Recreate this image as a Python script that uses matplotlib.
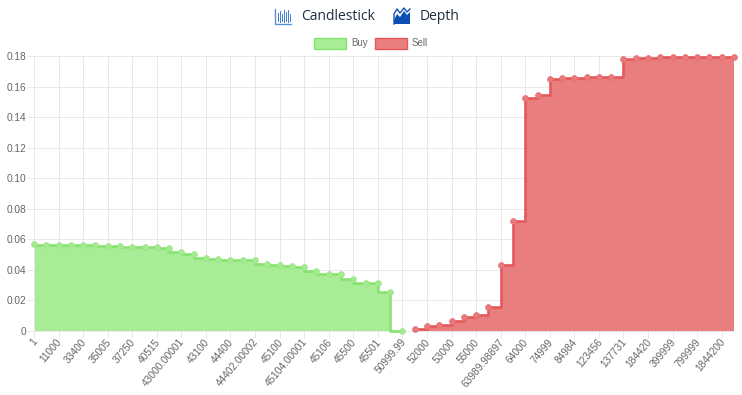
#!/usr/bin/env python3
import numpy as np
from matplotlib import pyplot as plt
from matplotlib.patches import Rectangle, Polygon
from matplotlib.transforms import ScaledTranslation

plt.rcParams['font.family'] = ['Liberation Sans', 'DejaVu Sans']

tick_labels = ["1", "11000", "33400", "35005", "37250", "40515", "43000.00001", "43100", "44400",
               "44402.00002", "45100", "45104.00001", "45106", "45500", "45501", "50999.99",
               "52000", "53000", "55000", "63989.98897", "64000", "74999", "84984", "123456",
               "137731", "184420", "399999", "799999", "1844200"]

buy_values = [.057, .0565, .0565, .0565, .056, .056, .0557, .0555, .0553, .0552, .055, .0545,
              .0515, .0505, .0475, .047, .0468, .0467, .0467, .0438, .043, .0425, .0417, .0395,
              .0375, .0375, .034, .0315, .0315, .0257, 0.0]

sell_values = [.001, .003, .0037, .0065, .009, .0104, .0154, .0435, .072, .1525, .1545, .165,
               .1655, .1655, .166, .166, .166, .178, .179, .179, .1792, .1795, .1795, .1795,
               .1795, .1795, .1795]

y_ticks = [0, .02, .04, .06, .08, .10, .12, .14, .16, .18]
y_labels = ["0", "0.02", "0.04", "0.06", "0.08", "0.10", "0.12", "0.14", "0.16", "0.18"]

GREEN_FILL = '#a9ec96'
GREEN_LINE = '#86e36f'
RED_FILL = '#e87e7e'
RED_LINE = '#e5585c'
GRID = '#e8e8e8'
W, H = 742, 395

fig = plt.figure(figsize=(W / 100, H / 100), dpi=100)
ax = fig.add_axes([34 / W, 1 - 331 / H, 700 / W, 275 / H])

buy_x = np.arange(len(buy_values))
sell_x = np.arange(len(sell_values)) + len(buy_values)

# buy steps down before the point, sell steps up at the point
ax.fill_between(buy_x, buy_values, 0, step='pre', color=GREEN_FILL, lw=0, zorder=2)
ax.plot(buy_x, buy_values, drawstyle='steps-pre', color=GREEN_LINE, lw=1.9, zorder=3, clip_on=False)
ax.plot(buy_x, buy_values, 'o', ms=4.2, mfc='#a5ea91', mec='#97e784', mew=0.5, zorder=4, clip_on=False)

ax.fill_between(sell_x, sell_values, 0, step='post', color=RED_FILL, lw=0, zorder=2)
ax.plot(sell_x, sell_values, drawstyle='steps-post', color=RED_LINE, lw=1.9, zorder=3, clip_on=False)
ax.plot(sell_x, sell_values, 'o', ms=4.2, mfc='#e97a7c', mec='#e76a6d', mew=0.5, zorder=4, clip_on=False)

ax.set_xlim(0, len(buy_values) + len(sell_values) - 1)
ax.set_ylim(0, 0.18)
ax.set_xticks(np.arange(len(tick_labels)) * 2)
ax.set_xticklabels(tick_labels, rotation=50, ha='right', va='center', rotation_mode='anchor', fontsize=7.3, color='#666666')
ax.set_yticks(y_ticks)
ax.set_yticklabels(y_labels, fontsize=7.3, color='#666666')
ax.tick_params(axis='both', color=GRID, length=5, width=0.72, pad=0.5)
ax.tick_params(axis='x', pad=1.5)
ax.grid(True, color=GRID, lw=0.72, zorder=0)
ax.set_axisbelow(True)
for side in ['top', 'right']:
    ax.spines[side].set_visible(False)
for side in ['left', 'bottom']:
    ax.spines[side].set_color(GRID)
    ax.spines[side].set_linewidth(0.72)
# labels sit a little right of their ticks
for lab in ax.get_xticklabels():
    lab.set_transform(lab.get_transform() + ScaledTranslation(1.5 / 100, 0, fig.dpi_scale_trans))

# header and legend live in pixel coordinates
top = fig.add_axes([0, 0, 1, 1], zorder=-1)
top.set_xlim(0, W)
top.set_ylim(H, 0)
top.axis('off')

# candlestick icon
top.plot([275, 275, 291], [9, 23.5, 23.5], color='#5b8fd6', lw=1.0)
for x, y0, y1 in [(278, 13, 21), (280, 11, 22), (282, 14, 21), (284, 10, 22), (286, 12, 21), (288, 10, 22), (290, 14, 21)]:
    top.plot([x, x], [y0, y1], color='#3f7fd0', lw=0.7)
top.text(301, 16.5, "Candlestick", fontsize=10, family=['Open Sans', 'DejaVu Sans'], color='#1f2d3d', va='center')

# depth icon
top.add_patch(Polygon([(394, 20), (397, 14), (400, 17), (404, 11), (407, 15), (410, 12), (410, 24), (394, 24)], color='#0b4fb0', lw=0))
top.plot([394, 394, 397, 400, 404, 407, 410], [24, 14, 9, 13, 8, 12, 9], color='#0b4fb0', lw=1)
top.text(420, 16.5, "Depth", fontsize=10, family=['Open Sans', 'DejaVu Sans'], color='#1f2d3d', va='center')

top.add_patch(Rectangle((313.5, 37.5), 32, 11, fc=GREEN_FILL, ec=GREEN_LINE, lw=1))
top.text(351, 43.5, "Buy", fontsize=7, color='#666666', va='center')
top.add_patch(Rectangle((374.5, 37.5), 32, 11, fc=RED_FILL, ec=RED_LINE, lw=1))
top.text(412, 43.5, "Sell", fontsize=7, color='#666666', va='center')

plt.savefig('out.png', dpi=100)
